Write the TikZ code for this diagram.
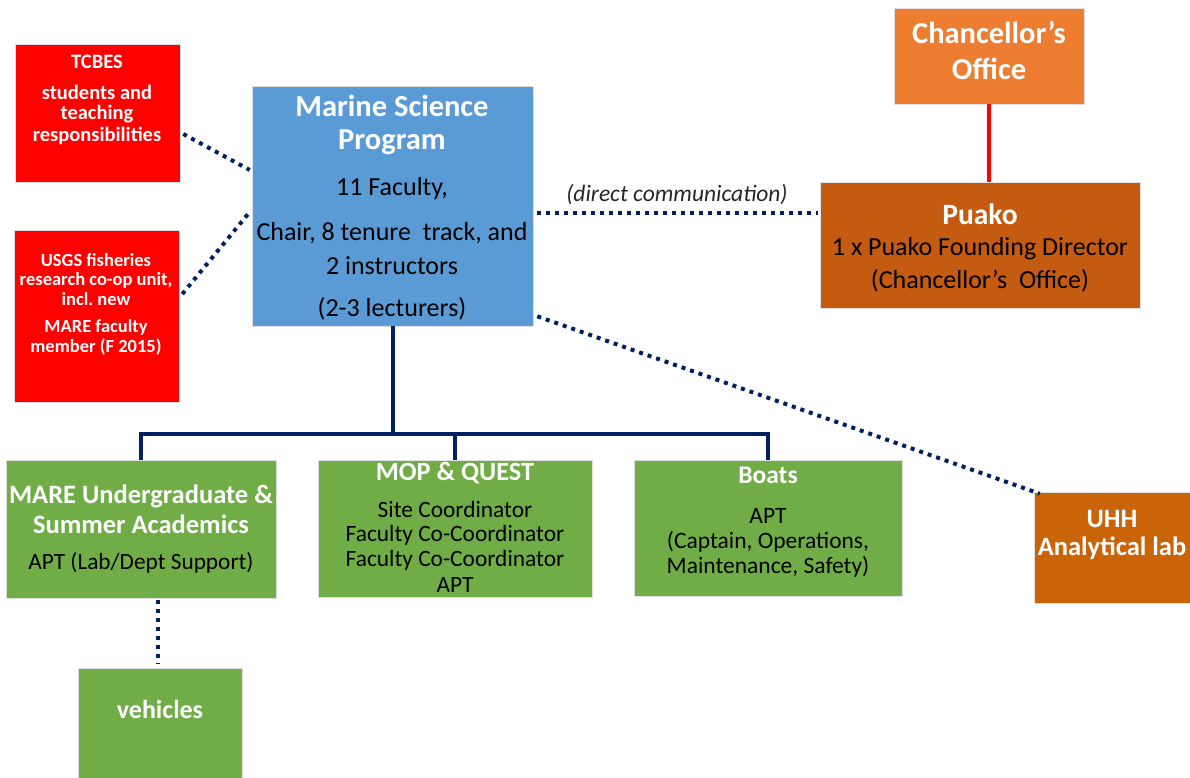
\documentclass[tikz,border=0pt]{standalone}
\usepackage{fontspec}
\setmainfont{Carlito}
\frenchspacing
\definecolor{cred}{HTML}{FF0000}
\definecolor{cblue}{HTML}{5B9BD5}
\definecolor{corange}{HTML}{ED7D31}
\definecolor{cpuako}{HTML}{C55A11}
\definecolor{cgreen}{HTML}{70AD47}
\definecolor{cuhh}{HTML}{C96408}
\definecolor{cnavy}{HTML}{002060}
\tikzset{
  box/.style={rectangle, draw=white!88!black, line width=0.6pt, inner sep=0pt},
  wt/.style={text=white, inner sep=0pt, align=center},
  bt/.style={text=black, inner sep=0pt, align=center},
  tree/.style={draw=cnavy, line width=4pt},
  dotline/.style={draw=cnavy, line width=4pt, dash pattern=on 4pt off 5pt},
  redline/.style={draw=cred, line width=4pt},
}
\newcommand{\fs}[1]{\fontsize{#1}{#1}\selectfont}
\begin{document}
\begin{tikzpicture}[x=1pt,y=-1pt]
\useasboundingbox (0,0) rectangle (1190,778);
% boxes
\node[box, fill=cred, minimum width=165pt, minimum height=138pt] (tcbes) at (97.5,113) {};
\node[box, fill=cred, minimum width=165pt, minimum height=172pt] (usgs) at (96.5,316) {};
\node[box, fill=cblue, minimum width=281pt, minimum height=240pt] (ms) at (392.5,206) {};
\node[box, fill=corange, minimum width=190pt, minimum height=96pt] (co) at (989,56) {};
\node[box, fill=cpuako, minimum width=320pt, minimum height=126pt] (puako) at (980,245) {};
\node[box, fill=cgreen, minimum width=270pt, minimum height=138pt] (mare) at (141,529) {};
\node[box, fill=cgreen, minimum width=274pt, minimum height=137pt] (mop) at (455,528.5) {};
\node[box, fill=cgreen, minimum width=268pt, minimum height=136pt] (boats) at (768,528) {};
\node[box, fill=cuhh, minimum width=156pt, minimum height=111pt] (uhh) at (1112,547.5) {};
\node[box, fill=cgreen, minimum width=164pt, minimum height=112pt] (veh) at (160,724) {};

% texts
\node[wt, font=\bfseries\fs{20.5}] (t1) at (97,62) {TCBES};
\node[wt, font=\bfseries\fs{20.5}] (t2) at (97,92) {students and};
\node[wt, font=\bfseries\fs{20.5}] (t3) at (97,114) {teaching};
\node[wt, font=\bfseries\fs{20.5}] (t4) at (97,136) {responsibilities};

\node[wt, font=\bfseries\fs{18.5}] (u1) at (96,260) {USGS fisheries};
\node[wt, font=\bfseries\fs{18.5}] (u2) at (96,280) {research co-op unit,};
\node[wt, font=\bfseries\fs{18.5}] (u3) at (96,299) {incl. new};
\node[wt, font=\bfseries\fs{18.5}] (u4) at (96,327) {MARE faculty};
\node[wt, font=\bfseries\fs{18.5}] (u5) at (96,347) {member (F 2015)};

\node[wt, font=\bfseries\fs{30.5}] (m1) at (392,106) {Marine Science};
\node[wt, font=\bfseries\fs{30.5}] (m2) at (392,142) {Program};
\node[bt, font=\fs{26}] (m3) at (392,189) {11 Faculty,};
\node[bt, font=\fs{26}] (m4) at (392,233) {Chair, 8 tenure\ \ track, and};
\node[bt, font=\fs{26}] (m5) at (392,266) {2 instructors};
\node[bt, font=\fs{26}] (m6) at (392,309) {(2-3 lecturers)};

\node[wt, font=\bfseries\fs{30.5}] (c1) at (989,33) {Chancellor’s};
\node[wt, font=\bfseries\fs{30.5}] (c2) at (989,69) {Office};

\node[wt, font=\bfseries\fs{29.5}] (p1) at (980,214) {Puako};
\node[bt, font=\fs{26}] (p2) at (980,249) {1 x Puako Founding Director};
\node[bt, font=\fs{26}] (p3) at (980,281) {(Chancellor’s\ \ Office)};

\node[wt, font=\bfseries\fs{26.5}] (a1) at (141,496) {MARE Undergraduate \&};
\node[wt, font=\bfseries\fs{26.5}] (a2) at (141,524) {Summer Academics};
\node[bt, font=\fs{23.3}] (a3) at (141,563) {APT (Lab/Dept Support)};

\node[wt, font=\bfseries\fs{26.3}] (q1) at (455,473) {MOP \& QUEST};
\node[bt, font=\fs{23.4}] (q2) at (455,509) {Site Coordinator};
\node[bt, font=\fs{23.4}] (q3) at (455,535) {Faculty Co-Coordinator};
\node[bt, font=\fs{23.4}] (q4) at (455,560) {Faculty Co-Coordinator};
\node[bt, font=\fs{23.4}] (q5) at (455,585) {APT};

\node[wt, font=\bfseries\fs{25.5}] (b1) at (768,475) {Boats};
\node[bt, font=\fs{23.5}] (b2) at (768,516) {APT};
\node[bt, font=\fs{23.5}] (b3) at (768,542) {(Captain, Operations,};
\node[bt, font=\fs{23.5}] (b4) at (768,567) {Maintenance, Safety)};

\node[wt, font=\bfseries\fs{26.5}] (h1) at (1112,519) {UHH};
\node[wt, font=\bfseries\fs{26.5}] (h2) at (1112,548) {Analytical lab};

\node[wt, font=\bfseries\fs{26}] (v1) at (160,709) {vehicles};

\node[text=black!85, inner sep=0pt, font=\itshape\fs{23.5}] (dc) at (677,195) {(direct communication)};

% connectors
\draw[tree] (ms.south) -- ++(0,108) coordinate (bus);
\draw[tree] (mare.north) |- (bus) -| (boats.north);
\draw[tree] (mop.north) -- (mop.north |- bus);

\draw[redline] (co.south) -- (co.south |- puako.north);

\draw[dotline] ([xshift=3pt,yshift=-21pt]tcbes.east) -- ([xshift=-2pt,yshift=36pt]ms.west);
\draw[dotline] ([xshift=3pt,yshift=22pt]usgs.east) -- ([xshift=-2pt,yshift=-6pt]ms.west);
\draw[dotline] ([xshift=4pt,yshift=-7pt]ms.east) -- ([xshift=-2pt,yshift=32pt]puako.west);
\draw[dotline] ([xshift=4pt,yshift=10pt]ms.south east) -- ([xshift=6pt,yshift=-2pt]uhh.north west);
\draw[dotline] ([xshift=-2pt,yshift=-2pt]veh.north |- mare.south) -- ([xshift=-2pt,yshift=4pt]veh.north);
\end{tikzpicture}
\end{document}
